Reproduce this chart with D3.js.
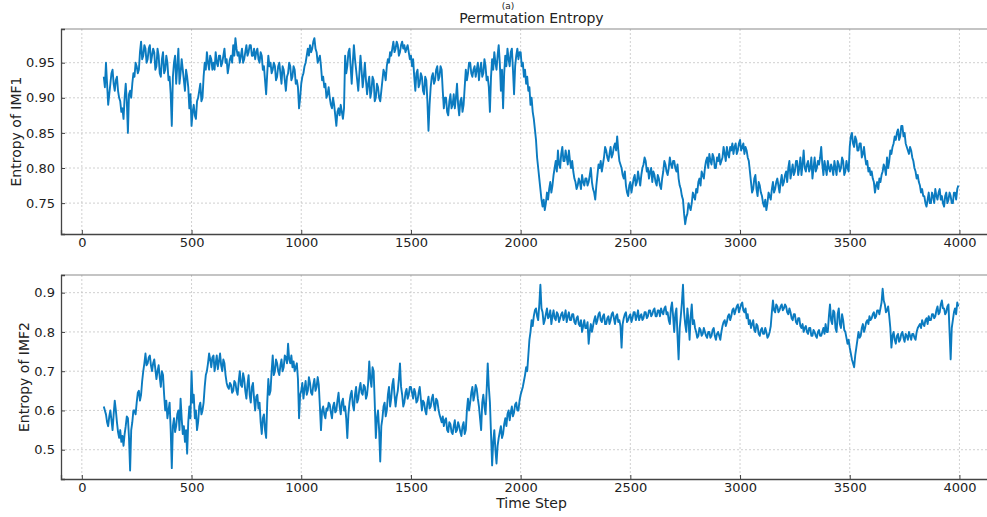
<!DOCTYPE html>
<html>
<head>
<meta charset="utf-8">
<script src="https://cdn.jsdelivr.net/npm/d3@7"></script>
<style>
  html, body { margin: 0; padding: 0; background: #fff; }
  svg { display: block; font-family: "DejaVu Sans", sans-serif; }
</style>
</head>
<body>
<svg id="chart" width="987" height="517"></svg>
<script>
// Time steps: every 5 steps from 100 to 3995
const timeStart = 100;
const timeStep = 5;

// Permutation entropy of IMF1 (one row per 100 time steps)
const entropyIMF1 = [
  .93,.915,.95,.92,.89,.905,.92,.935,.94,.92,.91,.925,.93,.91,.90,.895,.88,.885,.87,.90,
  .92,.895,.85,.905,.91,.90,.92,.935,.93,.95,.945,.935,.94,.965,.98,.955,.96,.975,.97,.95,
  .955,.97,.975,.95,.96,.97,.965,.94,.945,.97,.96,.935,.93,.955,.965,.935,.94,.96,.95,.925,
  .93,.905,.86,.93,.95,.96,.92,.945,.97,.92,.935,.955,.94,.925,.91,.94,.93,.915,.885,.905,
  .86,.88,.89,.875,.87,.895,.90,.91,.92,.895,.90,.93,.95,.94,.965,.95,.94,.96,.955,.94,
  .95,.94,.965,.95,.945,.96,.96,.945,.95,.96,.97,.95,.955,.935,.945,.955,.96,.95,.975,.96,
  .985,.97,.96,.965,.95,.96,.97,.95,.955,.965,.975,.96,.965,.975,.975,.96,.96,.97,.955,.965,
  .97,.955,.95,.965,.96,.94,.945,.925,.905,.935,.96,.945,.95,.935,.94,.95,.945,.925,.93,.945,
  .95,.935,.92,.945,.94,.925,.91,.93,.935,.95,.945,.925,.93,.945,.94,.92,.925,.915,.885,.90,
  .92,.93,.935,.945,.95,.96,.97,.96,.975,.965,.97,.98,.985,.97,.965,.95,.955,.96,.945,.925,
  .93,.915,.92,.90,.905,.915,.90,.89,.885,.90,.89,.875,.86,.88,.885,.875,.89,.88,.87,.885,
  .96,.935,.945,.965,.97,.945,.92,.95,.975,.955,.94,.925,.91,.935,.96,.94,.915,.93,.95,.925,
  .905,.92,.93,.90,.91,.93,.925,.895,.90,.92,.915,.90,.895,.91,.925,.94,.935,.925,.945,.955,
  .95,.965,.96,.97,.98,.965,.97,.98,.975,.96,.965,.975,.98,.97,.975,.965,.97,.975,.965,.955,
  .96,.945,.955,.93,.91,.935,.94,.915,.92,.935,.93,.91,.905,.93,.925,.895,.853,.89,.915,.93,
  .935,.92,.925,.94,.945,.925,.93,.945,.94,.91,.885,.90,.90,.88,.875,.895,.905,.885,.89,.905,
  .885,.90,.92,.89,.875,.895,.90,.88,.89,.915,.94,.925,.935,.95,.95,.935,.93,.94,.945,.93,
  .94,.95,.925,.94,.95,.93,.935,.955,.945,.925,.93,.915,.88,.93,.955,.94,.965,.95,.94,.96,
  .975,.95,.91,.94,.885,.935,.96,.945,.97,.955,.945,.965,.97,.94,.905,.945,.96,.97,.955,.965,
  .965,.945,.95,.93,.94,.92,.93,.91,.915,.89,.90,.88,.87,.855,.84,.815,.80,.785,.77,.755,
  .745,.755,.74,.75,.765,.755,.77,.78,.765,.775,.79,.80,.81,.795,.825,.805,.80,.82,.83,.81,
  .81,.825,.815,.805,.825,.81,.80,.81,.795,.785,.78,.77,.775,.785,.78,.77,.79,.78,.775,.785,
  .785,.775,.78,.79,.80,.78,.77,.765,.755,.775,.79,.805,.80,.81,.795,.805,.815,.83,.825,.815,
  .81,.82,.83,.815,.82,.83,.835,.825,.845,.825,.81,.805,.80,.79,.785,.795,.775,.765,.76,.775,
  .78,.765,.775,.785,.79,.775,.78,.795,.785,.775,.79,.80,.805,.815,.81,.795,.80,.785,.795,.80,
  .78,.795,.79,.78,.775,.79,.785,.775,.77,.785,.795,.81,.805,.795,.79,.80,.815,.805,.80,.81,
  .81,.80,.795,.805,.785,.775,.77,.76,.755,.735,.72,.73,.735,.75,.745,.74,.75,.765,.76,.755,
  .77,.765,.78,.785,.775,.795,.79,.785,.80,.81,.815,.80,.82,.81,.805,.82,.815,.80,.80,.815,
  .81,.82,.805,.81,.815,.83,.82,.81,.83,.82,.815,.83,.825,.835,.82,.83,.835,.82,.825,.835,
  .84,.825,.83,.835,.82,.83,.825,.815,.81,.795,.78,.765,.77,.785,.79,.77,.76,.78,.775,.765,
  .76,.75,.745,.755,.74,.75,.765,.76,.755,.77,.78,.765,.77,.78,.785,.775,.765,.78,.79,.775,
  .78,.79,.795,.78,.80,.81,.785,.795,.805,.79,.795,.81,.81,.79,.80,.815,.79,.805,.825,.80,
  .795,.805,.81,.795,.80,.815,.785,.80,.815,.795,.80,.81,.805,.815,.83,.805,.79,.81,.80,.79,
  .81,.80,.795,.805,.80,.79,.81,.80,.79,.81,.805,.795,.80,.815,.81,.79,.795,.81,.80,.795,
  .83,.845,.85,.835,.83,.845,.84,.825,.825,.835,.835,.815,.82,.83,.815,.805,.81,.795,.80,.79,
  .795,.785,.78,.765,.775,.78,.77,.785,.78,.79,.795,.805,.80,.79,.815,.80,.81,.825,.82,.83,
  .835,.845,.84,.85,.855,.84,.845,.86,.86,.845,.85,.835,.83,.825,.82,.83,.825,.815,.81,.80,
  .795,.785,.79,.78,.775,.765,.77,.76,.76,.75,.745,.755,.765,.75,.75,.765,.76,.75,.77,.76,
  .755,.765,.77,.755,.76,.75,.745,.76,.765,.75,.755,.765,.76,.75,.75,.765,.765,.755,.77,.775
];

// Permutation entropy of IMF2 (one row per 100 time steps)
const entropyIMF2 = [
  .61,.60,.59,.57,.56,.585,.60,.575,.55,.59,.625,.60,.57,.545,.53,.55,.52,.535,.51,.54,
  .56,.585,.58,.53,.447,.55,.57,.60,.60,.59,.62,.645,.65,.625,.64,.675,.70,.72,.745,.715,
  .72,.735,.74,.715,.70,.72,.73,.705,.68,.70,.715,.685,.66,.70,.69,.64,.60,.625,.58,.60,
  .62,.55,.453,.56,.58,.545,.56,.59,.60,.55,.63,.58,.54,.56,.52,.55,.49,.57,.61,.58,
  .70,.62,.64,.58,.60,.55,.57,.61,.62,.59,.60,.62,.66,.69,.70,.72,.745,.73,.71,.735,
  .74,.70,.72,.74,.705,.725,.745,.715,.70,.73,.72,.69,.67,.66,.655,.67,.665,.645,.65,.675,
  .67,.65,.64,.675,.70,.665,.66,.695,.68,.65,.63,.665,.69,.64,.62,.66,.67,.63,.60,.635,
  .64,.605,.62,.57,.54,.58,.59,.55,.53,.62,.68,.64,.65,.70,.74,.69,.70,.73,.72,.70,
  .69,.715,.73,.70,.71,.74,.735,.72,.77,.73,.72,.74,.71,.725,.70,.71,.72,.68,.58,.64,
  .65,.67,.63,.655,.675,.64,.65,.685,.67,.645,.64,.665,.68,.65,.66,.685,.665,.61,.55,.60,
  .61,.59,.58,.605,.60,.62,.615,.595,.58,.61,.62,.595,.60,.625,.645,.61,.59,.62,.63,.60,
  .61,.58,.53,.59,.62,.64,.65,.615,.60,.64,.66,.62,.63,.655,.67,.645,.64,.665,.66,.63,
  .64,.67,.725,.68,.66,.71,.70,.62,.53,.58,.60,.55,.47,.56,.58,.61,.62,.585,.60,.64,
  .66,.61,.63,.665,.68,.64,.61,.635,.65,.68,.72,.66,.64,.61,.62,.645,.655,.63,.64,.66,
  .66,.645,.63,.655,.645,.62,.625,.645,.66,.63,.60,.625,.62,.60,.59,.62,.635,.605,.61,.63,
  .64,.615,.60,.63,.625,.605,.59,.58,.57,.585,.56,.575,.58,.55,.545,.57,.565,.545,.54,.56,
  .575,.545,.55,.57,.56,.545,.535,.56,.57,.54,.55,.60,.63,.60,.62,.645,.66,.625,.64,.665,
  .655,.63,.61,.58,.55,.62,.64,.61,.59,.65,.72,.66,.62,.54,.46,.52,.55,.50,.465,.51,
  .53,.545,.56,.53,.54,.565,.58,.56,.59,.60,.575,.595,.61,.585,.595,.615,.62,.60,.60,.625,
  .64,.65,.66,.675,.69,.71,.70,.74,.78,.80,.83,.815,.84,.855,.86,.84,.83,.87,.92,.86,
  .85,.82,.83,.845,.86,.835,.84,.855,.82,.84,.855,.835,.83,.85,.845,.825,.835,.845,.85,.83,
  .84,.855,.825,.84,.85,.83,.83,.845,.845,.825,.82,.835,.84,.82,.815,.83,.80,.815,.83,.81,
  .81,.825,.77,.80,.82,.80,.815,.83,.84,.82,.83,.845,.85,.83,.825,.84,.845,.82,.82,.835,
  .84,.82,.83,.845,.85,.835,.82,.84,.845,.825,.83,.815,.76,.82,.835,.845,.85,.825,.83,.84,
  .845,.825,.835,.85,.85,.83,.84,.855,.83,.84,.845,.83,.835,.85,.85,.835,.84,.855,.855,.84,
  .845,.855,.86,.84,.84,.855,.855,.84,.86,.85,.845,.86,.865,.845,.85,.83,.82,.86,.875,.84,
  .80,.845,.86,.79,.73,.81,.84,.875,.92,.85,.82,.80,.86,.83,.78,.84,.87,.82,.83,.81,
  .80,.785,.79,.81,.805,.79,.795,.81,.80,.79,.785,.80,.80,.785,.79,.805,.81,.79,.78,.795,
  .80,.79,.78,.80,.815,.825,.83,.815,.825,.84,.845,.83,.84,.855,.86,.845,.855,.865,.87,.85,
  .86,.87,.875,.855,.85,.86,.835,.845,.82,.83,.81,.82,.83,.805,.80,.82,.815,.795,.79,.805,
  .81,.795,.795,.81,.80,.785,.79,.80,.815,.85,.88,.855,.85,.87,.865,.85,.855,.865,.87,.855,
  .86,.87,.865,.85,.845,.86,.85,.835,.83,.845,.845,.825,.82,.835,.835,.815,.81,.82,.80,.81,
  .815,.80,.795,.81,.81,.79,.79,.805,.80,.79,.785,.80,.805,.79,.79,.80,.81,.795,.82,.80,
  .80,.84,.87,.83,.82,.855,.85,.81,.80,.845,.86,.82,.81,.845,.83,.805,.80,.785,.77,.78,
  .76,.745,.73,.72,.71,.74,.76,.78,.80,.785,.79,.81,.82,.80,.81,.825,.83,.82,.84,.83,
  .835,.845,.85,.835,.84,.855,.855,.845,.86,.875,.91,.88,.87,.85,.855,.865,.84,.81,.76,.79,
  .80,.78,.77,.79,.795,.775,.78,.795,.80,.785,.775,.795,.79,.78,.80,.79,.78,.795,.795,.785,
  .78,.80,.81,.815,.82,.81,.83,.82,.815,.83,.835,.82,.84,.83,.83,.845,.845,.835,.84,.855,
  .865,.845,.85,.87,.88,.86,.86,.845,.85,.865,.87,.80,.73,.81,.83,.85,.86,.845,.875,.865
];

const xTicks = [0, 500, 1000, 1500, 2000, 2500, 3000, 3500, 4000];
const yTicksIMF1 = [0.75, 0.80, 0.85, 0.90, 0.95];
const yTicksIMF2 = [0.5, 0.6, 0.7, 0.8, 0.9];

const lineColor = "#0b7bc0";
const svg = d3.select("#chart");

// Shared horizontal scale (right part of the axes runs past the page edge)
const x = d3.scaleLinear().domain([-95, 4194]).range([61, 1002]);

function drawPanel(cfg) {
  const { values, yDomain, yTicks, top, bottom, yLabel, yLabelX, fmt } = cfg;
  const y = d3.scaleLinear().domain(yDomain).range([bottom, top]);
  const g = svg.append("g");
  const left = x.range()[0], right = x.range()[1];

  // grid
  g.append("g").selectAll("line").data(xTicks).join("line")
    .attr("x1", d => x(d)).attr("x2", d => x(d))
    .attr("y1", top).attr("y2", bottom)
    .attr("stroke", "#c4c4c4").attr("stroke-width", 0.8)
    .attr("stroke-dasharray", "2,2");
  g.append("g").selectAll("line").data(yTicks).join("line")
    .attr("x1", left).attr("x2", right)
    .attr("y1", d => y(d)).attr("y2", d => y(d))
    .attr("stroke", "#c4c4c4").attr("stroke-width", 0.8)
    .attr("stroke-dasharray", "2,2");

  // series
  const pts = values.map((v, i) => [timeStart + i * timeStep, v]);
  const line = d3.line().x(d => x(d[0])).y(d => y(d[1]));
  g.append("path").datum(pts)
    .attr("d", line)
    .attr("fill", "none")
    .attr("stroke", lineColor)
    .attr("stroke-width", 1.9)
    .attr("stroke-linejoin", "round");

  // top border
  g.append("line").attr("x1", left).attr("x2", right)
    .attr("y1", top).attr("y2", top)
    .attr("stroke", "#8a8a8a").attr("stroke-width", 1.2);

  // axes with inward ticks
  const xAxis = d3.axisBottom(x).tickValues(xTicks).tickSize(-4).tickPadding(4)
    .tickFormat(d3.format("d"));
  const gx = g.append("g").attr("transform", `translate(0,${bottom})`).call(xAxis);
  const yAxis = d3.axisLeft(y).tickValues(yTicks).tickSize(-4).tickPadding(6)
    .tickFormat(d3.format(fmt));
  const gy = g.append("g").attr("transform", `translate(${left},0)`).call(yAxis);

  [gx, gy].forEach(a => {
    a.select(".domain").attr("stroke", "#444").attr("stroke-width", 1.3);
    a.selectAll(".tick line").attr("stroke", "#444").attr("stroke-width", 1);
    a.selectAll(".tick text")
      .attr("font-family", "DejaVu Sans, sans-serif")
      .attr("font-size", 13).attr("fill", "#222");
  });

  // y label
  g.append("text")
    .attr("transform", `translate(${yLabelX},${(top + bottom) / 2}) rotate(-90)`)
    .attr("text-anchor", "middle")
    .attr("font-size", 14).attr("fill", "#222")
    .text(yLabel);
  return y;
}

drawPanel({
  values: entropyIMF1, yDomain: [0.706, 0.998], yTicks: yTicksIMF1,
  top: 29, bottom: 234, yLabel: "Entropy of IMF1", yLabelX: 21, fmt: ".2f"
});
drawPanel({
  values: entropyIMF2, yDomain: [0.4254, 0.945], yTicks: yTicksIMF2,
  top: 275, bottom: 479, yLabel: "Entropy of IMF2", yLabelX: 29, fmt: ".1f"
});

const centerX = (x.range()[0] + x.range()[1]) / 2;
svg.append("text").attr("x", 508).attr("y", 9)
  .attr("text-anchor", "middle").attr("font-size", 9).attr("fill", "#222")
  .text("(a)");
svg.append("text").attr("x", centerX).attr("y", 23)
  .attr("text-anchor", "middle").attr("font-size", 14).attr("fill", "#222")
  .text("Permutation Entropy");
svg.append("text").attr("x", centerX).attr("y", 508)
  .attr("text-anchor", "middle").attr("font-size", 14).attr("fill", "#222")
  .text("Time Step");
</script>
</body>
</html>
